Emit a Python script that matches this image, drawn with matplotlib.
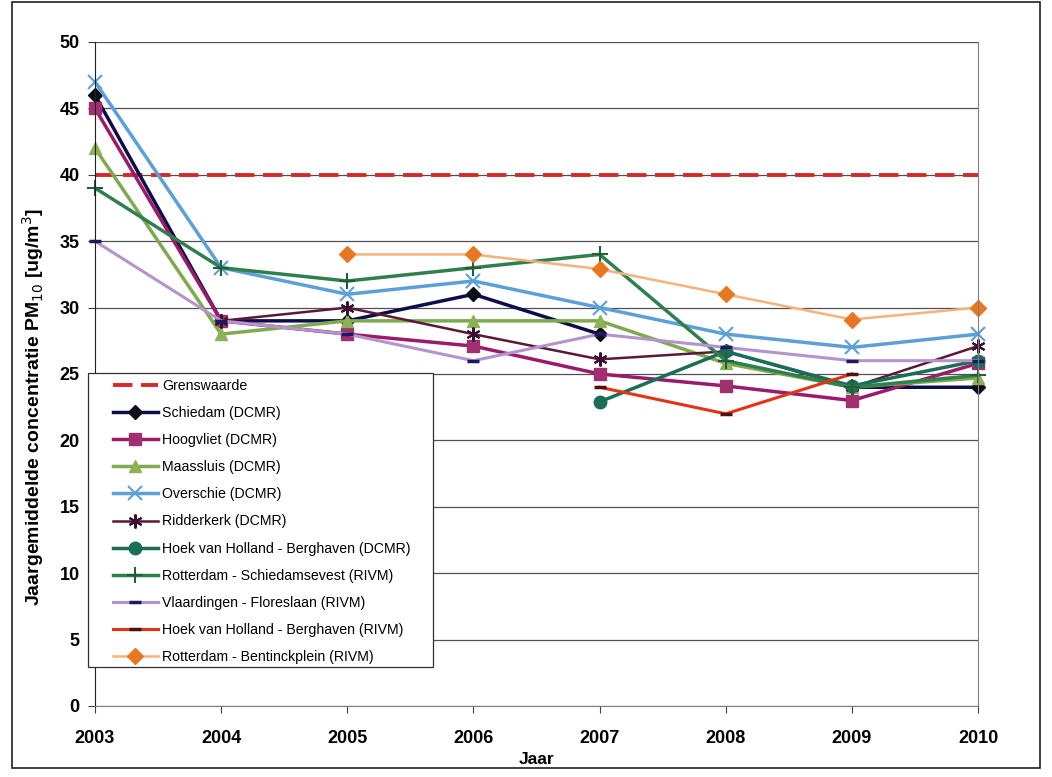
import matplotlib
matplotlib.use("Agg")
import matplotlib.pyplot as plt
import numpy as np
from matplotlib.patches import Rectangle

plt.rcParams['font.family'] = ['Liberation Sans', 'DejaVu Sans']

# years on the x axis
years = [2003, 2004, 2005, 2006, 2007, 2008, 2009, 2010]
nan = np.nan

# yearly mean PM10 per station (ug/m3)
grenswaarde = [40, 40, 40, 40, 40, 40, 40, 40]
schiedam = [46, 29, 29, 31, 28, nan, 24.0, 24.0]
hoogvliet = [45, 29, 28, 27.1, 25.0, 24.1, 23.0, 25.8]
maassluis = [42, 28, 29, 29, 29, 25.8, 24.0, 24.7]
overschie = [47, 33, 31, 32, 30, 28, 27.0, 28.0]
ridderkerk = [nan, 29, 30, 28, 26.1, 26.7, 24.0, 27.1]
hvh_dcmr = [nan, nan, nan, nan, 22.9, 26.7, 24.1, 26.0]
schiedamsevest = [39, 33, 32, 33, 34, 26.0, 24.0, 24.9]
vlaardingen = [35, 29, 28, 26, 28, 27.0, 26.0, 26.0]
hvh_rivm = [nan, nan, nan, nan, 24.0, 22.0, 25.0, nan]
bentinckplein = [nan, nan, 34, 34, 32.9, 31.0, 29.1, 30.0]

fig = plt.figure(figsize=(10.52, 7.77), dpi=100)
ax = fig.add_axes([0.0903, 0.0914, 0.8394, 0.8546])

kw = dict(clip_on=False)
ax.plot(years, grenswaarde, color='#D42A2A', lw=2.8, dashes=(5, 2.2), label='Grenswaarde', **kw)
ax.plot(years, schiedam, color='#0D0D4A', lw=2.5, marker='D', ms=7, mfc='#0D0D1A', mec='#0D0D1A',
        label='Schiedam (DCMR)', **kw)
ax.plot(years, hoogvliet, color='#9B1B6B', lw=2.5, marker='s', ms=8, mfc='#A0306E', mec='#A0306E',
        label='Hoogvliet (DCMR)', **kw)
ax.plot(years, maassluis, color='#7FAA4E', lw=2.5, marker='^', ms=9, mfc='#8DB255', mec='#8DB255',
        label='Maassluis (DCMR)', **kw)
ax.plot(years, overschie, color='#5BA0D8', lw=2.5, marker='x', ms=10, mew=1.5,
        label='Overschie (DCMR)', **kw)
ax.plot(years, ridderkerk, color='#5C1838', lw=1.8, marker=(6, 2, 0), ms=10, mew=1.5, mec='#3A1030',
        label='Ridderkerk (DCMR)', **kw)
ax.plot(years, hvh_dcmr, color='#1A6E55', lw=2.5, marker='o', ms=9, mfc='#1A6E55', mec='#1A6E55',
        label='Hoek van Holland - Berghaven (DCMR)', **kw)
ax.plot(years, schiedamsevest, color='#2F7F4F', lw=2.5, marker='+', ms=12, mew=1.5, mec='#1F5F3A',
        label='Rotterdam - Schiedamsevest (RIVM)', **kw)
ax.plot(years, vlaardingen, color='#B494CC', lw=2.2, marker='_', ms=8, mew=2.5, mec='#1A1A60',
        label='Vlaardingen - Floreslaan (RIVM)', **kw)
ax.plot(years, hvh_rivm, color='#E23414', lw=2.2, marker='_', ms=8, mew=2.5, mec='#501010',
        label='Hoek van Holland - Berghaven (RIVM)', **kw)
ax.plot(years, bentinckplein, color='#F5B27A', lw=1.8, marker='D', ms=8, mfc='#E87722', mec='#E87722',
        label='Rotterdam - Bentinckplein (RIVM)', **kw)

ax.set_xlim(2003, 2010)
ax.set_ylim(0, 50)
ax.set_xticks(years)
ax.set_yticks(range(0, 51, 5))
ax.yaxis.grid(True, color='#505050', lw=0.9)
ax.set_axisbelow(True)
ax.tick_params(axis='both', labelsize=13, direction='out', length=5, width=0.8, colors='#404040',
               labelcolor='black')
for lab in ax.get_xticklabels() + ax.get_yticklabels():
    lab.set_fontweight('bold')
ax.tick_params(axis='x', pad=12)
ax.tick_params(axis='y', pad=6)

ax.spines['top'].set_visible(False)
ax.spines['left'].set_color('#202020')
ax.spines['bottom'].set_color('#808080')
ax.spines['right'].set_color('#808080')

ax.set_xlabel('Jaar', fontsize=12.5, fontweight='bold', labelpad=4)
ax.set_ylabel('Jaargemiddelde concentratie PM$_{10}$ [ug/m$^3$]', fontsize=14, fontweight='bold')
ax.yaxis.set_label_coords(-0.056, 0.45)

# legend box drawn by hand, legend entries without frame on top of it
ax.add_patch(Rectangle((-0.008, 0.059), 0.391, 0.442, transform=ax.transAxes, facecolor='white',
                       edgecolor='#303030', lw=0.9, zorder=4, clip_on=False))
leg = ax.legend(loc='upper left', bbox_to_anchor=(0.02, 0.493), fontsize=10.2, handlelength=3.2,
                frameon=False, borderpad=0, labelspacing=0.93, handletextpad=0.3,
                borderaxespad=0)
leg.set_zorder(5)

# outer chart frame
fig.patches.append(Rectangle((0.011, 0.012), 0.978, 0.985, transform=fig.transFigure,
                             fill=False, edgecolor='#202020', lw=1.2))

fig.savefig('out.png', dpi=100)
